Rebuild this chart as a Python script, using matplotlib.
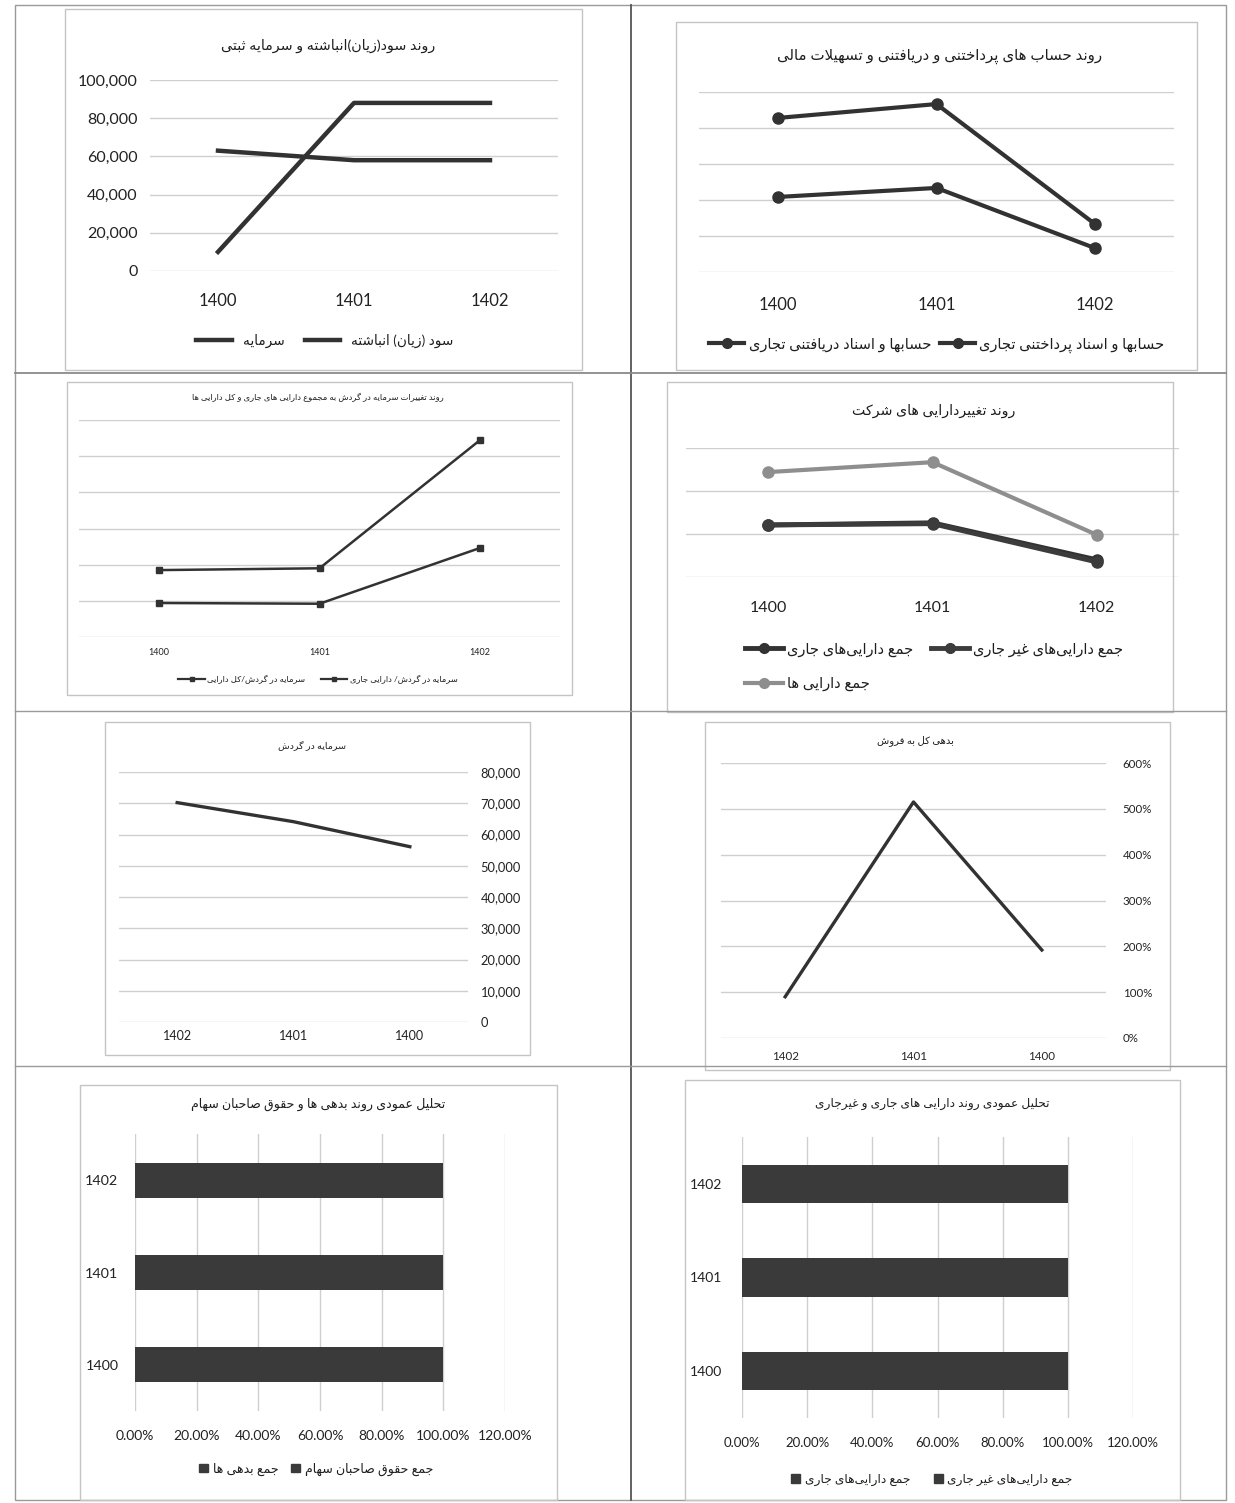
import matplotlib
matplotlib.use('Agg')
import matplotlib.pyplot as plt
from matplotlib.lines import Line2D
from matplotlib.patches import Rectangle, Patch

plt.rcParams['font.family'] = ['Lato', 'DejaVu Sans']

# ---- data (read from the scanned page) ----
years = ['1400', '1401', '1402']

# chart 1: retained earnings and registered capital
capital = [10000, 88000, 88000]
retained = [63000, 58000, 58000]

# chart 2: payables / receivables (no axis labels in the original)
payables = [85.6, 93.3, 26.7]
receivables = [41.7, 46.7, 13.3]

# chart 3: working capital ratios
wc_current = [0.185, 0.19, 0.544]
wc_total = [0.094, 0.092, 0.246]

# chart 4: company assets
total_assets = [2.44, 2.67, 0.98]
current_assets = [1.21, 1.26, 0.40]
noncurrent_assets = [1.21, 1.24, 0.35]

# chart 5: working capital (1400, 1401, 1402)
working_capital = [56100, 64100, 70200]

# chart 6: total debt to sales (1400, 1401, 1402)
debt_to_sales = [1.92, 5.15, 0.90]

# chart 7 / 8: vertical analysis, shares of 100%
liab_share = [0.55, 0.60, 0.45]
equity_share = [0.45, 0.40, 0.55]
cur_share = [0.50, 0.50, 0.53]
noncur_share = [0.50, 0.50, 0.47]

# ---- simple persian shaping (no bidi lib available) ----
JOIN = {'ا': (0xFE8D, 0), 'ب': (0xFE8F, 1), 'ت': (0xFE95, 1), 'ث': (0xFE99, 1),
        'ج': (0xFE9D, 1), 'ح': (0xFEA1, 1), 'خ': (0xFEA5, 1), 'د': (0xFEA9, 0),
        'ذ': (0xFEAB, 0), 'ر': (0xFEAD, 0), 'ز': (0xFEAF, 0), 'س': (0xFEB1, 1),
        'ش': (0xFEB5, 1), 'ص': (0xFEB9, 1), 'ض': (0xFEBD, 1), 'ط': (0xFEC1, 1),
        'ظ': (0xFEC5, 1), 'ع': (0xFEC9, 1), 'غ': (0xFECD, 1), 'ف': (0xFED1, 1),
        'ق': (0xFED5, 1), 'ل': (0xFEDD, 1), 'م': (0xFEE1, 1), 'ن': (0xFEE5, 1),
        'ه': (0xFEE9, 1), 'و': (0xFEED, 0), 'پ': (0xFB56, 1), 'چ': (0xFB7A, 1),
        'ژ': (0xFB8A, 0), 'ک': (0xFB8E, 1), 'گ': (0xFB92, 1), 'ی': (0xFBFC, 1)}


def fa(s):
    out = []
    i = 0
    n = len(s)
    while i < n:
        c = s[i]
        prev = s[i - 1] if i > 0 else ''
        jp = prev in JOIN and JOIN[prev][1] == 1
        if c == 'ل' and i + 1 < n and s[i + 1] == 'ا':
            out.append(chr(0xFEFC if jp else 0xFEFB))
            i += 2
            continue
        if c in JOIN:
            base, dual = JOIN[c]
            nxt = s[i + 1] if i + 1 < n else ''
            jn = dual == 1 and nxt in JOIN
            form = (1 if jp else 0) + (2 if jn else 0)
            out.append(chr(base + form))
        elif c != '\u200c':
            out.append({'(': ')', ')': '('}.get(c, c))
        i += 1
    return ''.join(reversed(out))


# ---- figure in pixel coordinates ----
W, H = 1235, 1503
fig = plt.figure(figsize=(W / 100, H / 100), dpi=100, facecolor='white')

DARK = '#323232'
GRID = '#cfcfcf'


def box(x0, y0, x1, y1):
    return fig.add_axes([x0 / W, 1 - y1 / H, (x1 - x0) / W, (y1 - y0) / H])


def ftext(x, y, s, size, **kw):
    fig.text(x / W, 1 - y / H, s, fontsize=size, ha='center', va='center', color='#1e1e1e', **kw)


def fline(x0, y0, x1, y1, color='#8c8c8c', lw=1.0):
    fig.add_artist(Line2D([x0 / W, x1 / W], [1 - y0 / H, 1 - y1 / H],
                          transform=fig.transFigure, color=color, lw=lw))


def frect(x0, y0, x1, y1, color='#c4c4c4'):
    fig.add_artist(Rectangle((x0 / W, 1 - y1 / H), (x1 - x0) / W, (y1 - y0) / H,
                             transform=fig.transFigure, fill=False, ec=color, lw=1.0))


def flegend(handles, labels, x, y, size, **kw):
    fig.legend(handles, labels, loc='center', bbox_to_anchor=(x / W, 1 - y / H),
               frameon=False, fontsize=size, labelcolor='#1e1e1e', **kw)


def clean(ax, axis='y'):
    for s in ax.spines.values():
        s.set_visible(False)
    ax.set_axisbelow(True)
    if axis == 'y':
        ax.yaxis.grid(True, color=GRID, lw=1)
    else:
        ax.xaxis.grid(True, color=GRID, lw=1)
    ax.tick_params(length=0, colors='#222')
    ax.set_facecolor('none')


# table grid of the page
frect(15, 5, 1226, 1500, color='#9a9a9a')
fline(631, 5, 631, 1500, color='#555', lw=1.3)
fline(15, 373, 1226, 373, color='#8a8a8a', lw=1.3)
fline(15, 711, 1226, 711, color='#9a9a9a')
fline(15, 1066, 1226, 1066, color='#9a9a9a')

# chart frames
frect(65, 9, 582, 370)
frect(676, 22, 1197, 370)
frect(67, 382, 572, 695)
frect(667, 382, 1173, 712)
frect(105, 722, 530, 1055)
frect(705, 722, 1170, 1070)
frect(80, 1085, 557, 1500)
frect(685, 1080, 1180, 1500)

x = [0, 1, 2]

# ---- chart 1 ----
ax = box(150, 80, 558, 271)
ax.plot(x, capital, color=DARK, lw=3.2)
ax.plot(x, retained, color=DARK, lw=3.2)
ax.set_xlim(-0.5, 2.5)
ax.set_ylim(0, 100000)
ax.set_yticks(range(0, 100001, 20000))
ax.set_yticklabels([f'{v:,}' for v in range(0, 100001, 20000)], fontsize=11.5)
ax.set_xticks(x)
ax.set_xticklabels(years, fontsize=12)
clean(ax)
ax.tick_params(axis='y', pad=9)
ax.tick_params(axis='x', pad=16)
ftext(328, 46, fa('روند سود(زیان)انباشته و سرمایه ثبتی'), 10.3)
flegend([Line2D([], [], color=DARK, lw=3.2), Line2D([], [], color=DARK, lw=3.2)],
        [fa('سرمایه'), fa('سود (زیان) انباشته')], 325, 341, 9.8, ncol=2,
        handlelength=2.6, columnspacing=1.5)

# ---- chart 2 ----
ax = box(699, 92, 1174, 272)
ax.plot(x, payables, color=DARK, lw=3, marker='o', ms=8)
ax.plot(x, receivables, color=DARK, lw=3, marker='o', ms=8)
ax.set_xlim(-0.5, 2.5)
ax.set_ylim(0, 100)
ax.set_yticks(range(0, 101, 20))
ax.set_yticklabels([])
ax.set_xticks(x)
ax.set_xticklabels(years, fontsize=12)
clean(ax)
ax.tick_params(axis='x', pad=18)
ftext(940, 56, fa('روند حساب های پرداختنی و دریافتنی و تسهیلات مالی'), 10.8)
mk = dict(color=DARK, lw=3, marker='o', ms=7)
flegend([Line2D([], [], **mk), Line2D([], [], **mk)],
        [fa('حسابها و اسناد دریافتنی تجاری'), fa('حسابها و اسناد پرداختنی تجاری')],
        937, 345, 10.5, ncol=2, handlelength=2.4, columnspacing=0.6, handletextpad=0.3)

# ---- chart 3 ----
ax = box(79, 420, 560, 637)
ax.plot(x, wc_current, color=DARK, lw=1.8, marker='s', ms=4)
ax.plot(x, wc_total, color=DARK, lw=1.8, marker='s', ms=4)
ax.set_xlim(-0.5, 2.5)
ax.set_ylim(0, 0.6)
ax.set_yticks([i / 10 for i in range(7)])
ax.set_yticklabels([])
ax.set_xticks(x)
ax.set_xticklabels(years, fontsize=6.5)
clean(ax)
ax.tick_params(axis='x', pad=8)
ftext(318, 397, fa('روند تغییرات سرمایه در گردش به مجموع دارایی های جاری و کل دارایی ها'), 6)
mk = dict(color=DARK, lw=1.6, marker='s', ms=3.5)
flegend([Line2D([], [], **mk), Line2D([], [], **mk)],
        [fa('سرمایه در گردش/کل دارایی'), fa('سرمایه در گردش/ دارایی جاری')],
        318, 679, 6, ncol=2, handlelength=3.2, columnspacing=1.8, handletextpad=0.3)

# ---- chart 4 ----
LIGHT = '#8e8e8e'
ax = box(686, 448, 1179, 577)
ax.plot(x, total_assets, color=LIGHT, lw=3, marker='o', ms=8)
ax.plot(x, current_assets, color=DARK, lw=3.5, marker='o', ms=8)
ax.plot(x, noncurrent_assets, color='#3c3c3c', lw=3.5, marker='o', ms=8)
ax.set_xlim(-0.5, 2.5)
ax.set_ylim(0, 3)
ax.set_yticks([0, 1, 2, 3])
ax.set_yticklabels([])
ax.set_xticks(x)
ax.set_xticklabels(years, fontsize=11.5)
clean(ax)
ax.tick_params(axis='x', pad=17)
ftext(934, 411, fa('روند تغییردارایی های شرکت'), 10.2)
flegend([Line2D([], [], color=DARK, lw=3.5, marker='o', ms=7),
         Line2D([], [], color=LIGHT, lw=3, marker='o', ms=7),
         Line2D([], [], color='#3c3c3c', lw=3.5, marker='o', ms=7)],
        [fa('جمع دارایی\u200cهای جاری'), fa('جمع دارایی ها'), fa('جمع دارایی\u200cهای غیر جاری')],
        934, 667, 10.5, ncol=2, handlelength=2.6, columnspacing=1.2, handletextpad=0.3,
        labelspacing=1.4)

# ---- chart 5 ----
ax = box(119, 772, 468, 1022)
ax.plot(x, working_capital, color=DARK, lw=2.4)
ax.set_xlim(-0.5, 2.5)
ax.invert_xaxis()
ax.set_ylim(0, 80000)
ax.yaxis.tick_right()
ax.set_yticks(range(0, 80001, 10000))
ax.set_yticklabels([f'{v:,}' for v in range(0, 80001, 10000)], fontsize=9.3)
ax.set_xticks(x)
ax.set_xticklabels(years, fontsize=9)
clean(ax)
ax.tick_params(axis='y', pad=9)
ax.tick_params(axis='x', pad=6)
ftext(312, 745, fa('سرمایه در گردش'), 6.8)

# ---- chart 6 ----
ax = box(721, 763, 1106, 1038)
ax.plot(x, debt_to_sales, color=DARK, lw=2.4)
ax.set_xlim(-0.5, 2.5)
ax.invert_xaxis()
ax.set_ylim(0, 6)
ax.yaxis.tick_right()
ax.set_yticks(range(7))
ax.set_yticklabels([f'{v * 100}%' for v in range(7)], fontsize=8.3)
ax.set_xticks(x)
ax.set_xticklabels(years, fontsize=8.3)
clean(ax)
ax.tick_params(axis='y', pad=12)
ax.tick_params(axis='x', pad=9)
ftext(915, 741, fa('بدهی کل به فروش'), 7.2)

# ---- chart 7 ----
BAR = '#3a3a3a'
ax = box(135, 1134, 505, 1411)
ax.barh(x, liab_share, height=0.38, color=BAR)
ax.barh(x, equity_share, left=liab_share, height=0.38, color=BAR)
ax.set_xlim(0, 1.2)
ax.set_ylim(-0.5, 2.5)
ax.set_xticks([i / 5 for i in range(7)])
ax.set_xticklabels([f'{i * 20:.2f}%' for i in range(7)], fontsize=10)
ax.set_yticks(x)
ax.set_yticklabels(years, fontsize=10.3)
clean(ax, 'x')
ax.tick_params(axis='x', pad=14)
ax.tick_params(axis='y', pad=12)
ftext(318, 1104, fa('تحلیل عمودی روند بدهی ها و حقوق صاحبان سهام'), 9)
flegend([Patch(color=BAR), Patch(color=BAR)],
        [fa('جمع بدهی ها'), fa('جمع حقوق صاحبان سهام')], 316, 1469, 9, ncol=2,
        handlelength=0.7, handleheight=0.7, columnspacing=1.0, handletextpad=0.4)

# ---- chart 8 ----
ax = box(742, 1137, 1133, 1418)
ax.barh(x, cur_share, height=0.41, color=BAR)
ax.barh(x, noncur_share, left=cur_share, height=0.41, color=BAR)
ax.set_xlim(0, 1.2)
ax.set_ylim(-0.5, 2.5)
ax.set_xticks([i / 5 for i in range(7)])
ax.set_xticklabels([f'{i * 20:.2f}%' for i in range(7)], fontsize=9.5)
ax.set_yticks(x)
ax.set_yticklabels(years, fontsize=10)
clean(ax, 'x')
ax.tick_params(axis='x', pad=14)
ax.tick_params(axis='y', pad=14)
ftext(932, 1104, fa('تحلیل عمودی روند دارایی های جاری و غیرجاری'), 8.7)
flegend([Patch(color=BAR), Patch(color=BAR)],
        [fa('جمع دارایی\u200cهای جاری'), fa('جمع دارایی\u200cهای غیر جاری')], 932, 1480, 8.7,
        ncol=2, handlelength=0.7, handleheight=0.7, columnspacing=2.0, handletextpad=0.4)

fig.savefig('out.png', dpi=100, facecolor='white')
